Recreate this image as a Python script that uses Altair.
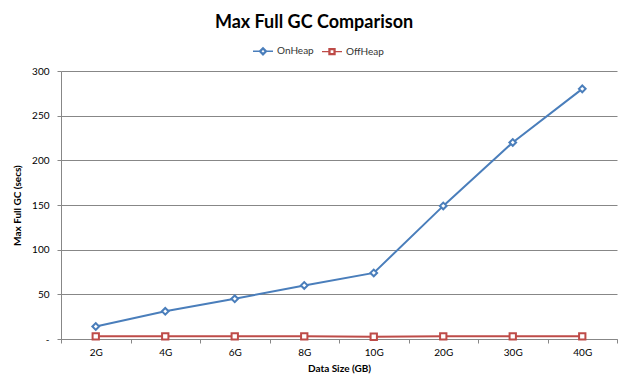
import altair as alt
import pandas as pd

sizes = ["2G", "4G", "6G", "8G", "10G", "20G", "30G", "40G"]
onheap = [14, 31, 45, 60, 74, 149, 220, 280]
offheap = [3, 3, 3, 3, 2.5, 3, 3, 3]
series = ["OnHeap", "OffHeap"]
colors = ["#4a7ebb", "#be4b48"]

rows = []
for s, v in zip(sizes, onheap):
    rows.append({"size": s, "series": "OnHeap", "value": v})
for s, v in zip(sizes, offheap):
    rows.append({"size": s, "series": "OffHeap", "value": v})
df = pd.DataFrame(rows)

FONT = "Lato"
GRID = "#878787"

x_enc = alt.X(
    "size:N",
    sort=sizes,
    scale=alt.Scale(type="band", domain=sizes, paddingInner=0, paddingOuter=0),
    axis=alt.Axis(
        title="Data Size (GB)",
        tickBand="extent",
        labelAngle=0,
        tickSize=4,
        labelPadding=4,
        titlePadding=6,
        grid=False,
    ),
)
y_enc = alt.Y(
    "value:Q",
    scale=alt.Scale(domain=[0, 300], nice=False),
    axis=alt.Axis(
        title="Max Full GC (secs)",
        values=[0, 50, 100, 150, 200, 250, 300],
        labelExpr="datum.value == 0 ? '-\u00a0\u00a0' : datum.label",
        tickSize=4,
        labelPadding=8,
        titlePadding=9,
    ),
)

# legend symbols: line arms plus a hollow (ring) marker
diamond_path = (
    "M-1,0H-0.36M0.36,0H1"
    "M-0.36,0L0,-0.36L0.36,0L0,0.36Z"
    "M-0.24,0L0,0.24L0.24,0L0,-0.24Z"
)
square_path = (
    "M-1,0H-0.3M0.3,0H1"
    "M-0.3,-0.3H0.3V0.3H-0.3Z"
    "M-0.21,-0.21V0.21H0.21V-0.21Z"
)

base = alt.Chart(df)

lines = base.mark_line(strokeWidth=2).encode(
    x=x_enc,
    y=y_enc,
    color=alt.Color(
        "series:N",
        scale=alt.Scale(domain=series, range=colors),
        legend=alt.Legend(
            title=None,
            orient="none",
            direction="horizontal",
            legendX=191,
            legendY=-31,
            symbolSize=400,
            symbolStrokeWidth=1.4,
            labelFontSize=10,
            labelFont=FONT,
            labelColor="#333333",
            labelOffset=3,
            columnPadding=5,
            padding=0,
        ),
    ),
    shape=alt.Shape(
        "series:N",
        scale=alt.Scale(domain=series, range=[diamond_path, square_path]),
    ),
)

pts_on = base.transform_filter(alt.datum.series == "OnHeap").mark_point(
    shape="diamond", filled=True, fill="white", stroke=colors[0], size=45, strokeWidth=2, opacity=1
).encode(x=x_enc, y=y_enc)

pts_off = base.transform_filter(alt.datum.series == "OffHeap").mark_point(
    shape="square", filled=True, fill="white", stroke=colors[1], size=40, strokeWidth=2, opacity=1
).encode(x=x_enc, y=y_enc)

chart = (
    alt.layer(lines, pts_on, pts_off)
    .properties(
        width=556,
        height=268,
        autosize=alt.AutoSizeParams(type="none"),
        padding={"left": 53, "top": 63, "right": 5, "bottom": 40},
        title=alt.TitleParams(
            "Max Full GC Comparison",
            fontSize=18,
            font=FONT,
            fontWeight="bold",
            color="#000000",
            anchor="middle",
            dx=-25,
            offset=8,
        ),
        background="white",
    )
    .configure_view(stroke=None)
    .configure_axis(
        labelFont=FONT,
        labelFontSize=10,
        labelColor="#000000",
        titleFont=FONT,
        titleFontSize=10,
        titleFontWeight="bold",
        titleColor="#000000",
        domainColor=GRID,
        tickColor=GRID,
        gridColor=GRID,
        gridWidth=1,
    )
)

chart.save("out.html", embed_options={"renderer": "svg", "actions": False})
